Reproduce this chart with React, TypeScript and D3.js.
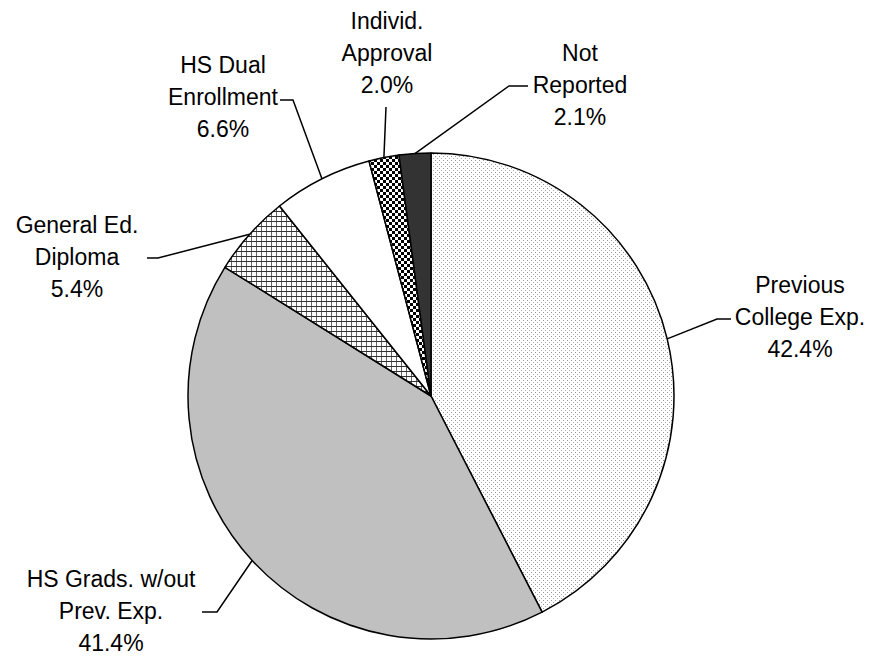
import React, { useEffect, useRef } from 'react';
import * as d3 from 'd3';

// slices, clockwise from 12 o'clock
const categories = [
  'Previous College Exp.',
  'HS Grads. w/out Prev. Exp.',
  'General Ed. Diploma',
  'HS Dual Enrollment',
  'Individ. Approval',
  'Not Reported',
];
const shares = [42.4, 41.4, 5.4, 6.6, 2.0, 2.1];
const labelLines = [
  ['Previous', 'College Exp.', '42.4%'],
  ['HS Grads. w/out', 'Prev. Exp.', '41.4%'],
  ['General Ed.', 'Diploma', '5.4%'],
  ['HS Dual', 'Enrollment', '6.6%'],
  ['Individ.', 'Approval', '2.0%'],
  ['Not', 'Reported', '2.1%'],
];

// label layout: text centre x, first baseline y, leader elbow + end of short horizontal tick
const labelLayout = [
  { cx: 800, y0: 293, elbow: [717, 319], tick: [731, 319] },
  { cx: 111, y0: 587, elbow: [217, 612], tick: [202, 612] },
  { cx: 77, y0: 233, elbow: [158, 258], tick: [147, 258] },
  { cx: 223, y0: 73, elbow: [293, 100], tick: [280, 100] },
  { cx: 387, y0: 29, elbow: [386, 107], tick: null },
  { cx: 580, y0: 61, elbow: [509, 86], tick: [528, 86] },
];

const fills = ['url(#dots)', '#c0c0c0', 'url(#grid)', '#ffffff', 'url(#checker)', '#333333'];

export default function App() {
  const svgRef = useRef<SVGSVGElement>(null);

  useEffect(() => {
    if (!svgRef.current) return;
    const svg = d3.select(svgRef.current);
    svg.selectAll('*').remove();

    const width = 875;
    const height = 656;
    const cx = 431;
    const cy = 396;
    const radius = 243;

    svg.append('rect').attr('width', width).attr('height', height).attr('fill', '#fff');

    const defs = svg.append('defs');

    const dots = defs.append('pattern').attr('id', 'dots')
      .attr('patternUnits', 'userSpaceOnUse').attr('width', 4).attr('height', 4);
    dots.append('rect').attr('width', 4).attr('height', 4).attr('fill', '#fff');
    dots.append('rect').attr('x', 0).attr('y', 0).attr('width', 1).attr('height', 1).attr('fill', '#999');
    dots.append('rect').attr('x', 2).attr('y', 2).attr('width', 1).attr('height', 1).attr('fill', '#aaa');

    const grid = defs.append('pattern').attr('id', 'grid')
      .attr('patternUnits', 'userSpaceOnUse').attr('width', 5).attr('height', 5);
    grid.append('rect').attr('width', 5).attr('height', 5).attr('fill', '#fff');
    grid.append('rect').attr('x', 0).attr('y', 0).attr('width', 1).attr('height', 5).attr('fill', '#666');
    grid.append('rect').attr('x', 0).attr('y', 0).attr('width', 5).attr('height', 1).attr('fill', '#333');

    const checker = defs.append('pattern').attr('id', 'checker')
      .attr('patternUnits', 'userSpaceOnUse').attr('width', 6).attr('height', 6);
    checker.append('rect').attr('width', 6).attr('height', 6).attr('fill', '#fff');
    checker.append('rect').attr('x', 0).attr('y', 0).attr('width', 3).attr('height', 3).attr('fill', '#000');
    checker.append('rect').attr('x', 3).attr('y', 3).attr('width', 3).attr('height', 3).attr('fill', '#000');

    const pie = d3.pie<number>().sort(null).value(d => d);
    const arcs = pie(shares);
    const arc = d3.arc<d3.PieArcDatum<number>>().innerRadius(0).outerRadius(radius);
    const edge = d3.arc<d3.PieArcDatum<number>>().innerRadius(radius).outerRadius(radius);

    const g = svg.append('g').attr('transform', `translate(${cx},${cy})`);
    g.selectAll('path.slice')
      .data(arcs)
      .enter()
      .append('path')
      .attr('class', 'slice')
      .attr('d', arc)
      .attr('fill', (_, i) => fills[i])
      .attr('stroke', '#000')
      .attr('stroke-width', 1.5)
      .attr('stroke-linejoin', 'round')
      .append('title')
      .text((d, i) => `${categories[i]}: ${d.data}%`);

    // leader lines
    arcs.forEach((a, i) => {
      const [ex, ey] = edge.centroid(a);
      const lay = labelLayout[i];
      const pts: [number, number][] = [[cx + ex, cy + ey], lay.elbow as [number, number]];
      if (lay.tick) pts.push(lay.tick as [number, number]);
      svg.append('path')
        .attr('d', d3.line()(pts))
        .attr('fill', 'none')
        .attr('stroke', '#000')
        .attr('stroke-width', 1.5);
    });

    // labels
    labelLines.forEach((lines, i) => {
      const lay = labelLayout[i];
      const t = svg.append('text')
        .attr('text-anchor', 'middle')
        .attr('font-family', 'Liberation Sans, Arial, sans-serif')
        .attr('font-size', 23)
        .attr('fill', '#000');
      lines.forEach((line, j) => {
        t.append('tspan').attr('x', lay.cx).attr('y', lay.y0 + j * 32).text(line);
      });
    });
  }, []);

  return (
    <svg
      ref={svgRef}
      width={875}
      height={656}
      viewBox="0 0 875 656"
      style={{ position: 'absolute', left: 0, top: 0, display: 'block' }}
    />
  );
}
